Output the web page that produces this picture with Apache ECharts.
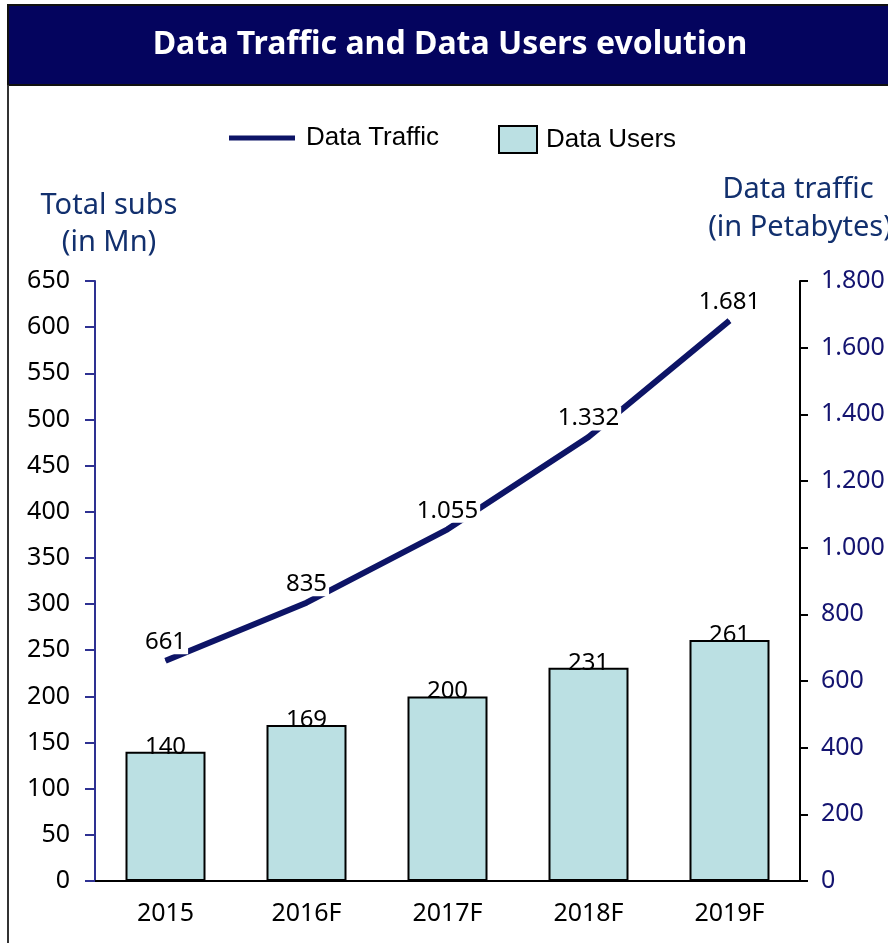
<!DOCTYPE html>
<html>
<head>
<meta charset="utf-8">
<script src="https://cdn.jsdelivr.net/npm/echarts@6/dist/echarts.min.js"></script>
<style>
  html, body { margin: 0; padding: 0; background: #fff; }
  #main { width: 888px; height: 943px; }
</style>
</head>
<body>
<div id="main"></div>
<script>
var years = ['2015', '2016F', '2017F', '2018F', '2019F'];
var dataUsers = [140, 169, 200, 231, 261];
var dataTraffic = [661, 835, 1055, 1332, 1681];

var navy = '#0d1466';
var titleNavy = '#12306e';

var dom = document.getElementById('main');
var myChart = echarts.init(dom);

function dotThousands(v) {
  return String(v).replace(/\B(?=(\d{3})+(?!\d))/g, '.');
}

var option = {
  backgroundColor: '#fff',
  animation: false,
  textStyle: { fontFamily: 'Noto Sans' },
  graphic: [
    { type: 'rect', shape: { x: 8, y: 5, width: 882, height: 80 },
      style: { fill: '#04045e', stroke: '#111', lineWidth: 2 } },
    { type: 'text', x: 450, y: 45,
      style: { text: 'Data Traffic and Data Users evolution', fill: '#fff',
        font: 'bold 32px "Noto Sans"', textAlign: 'center', textVerticalAlign: 'middle' } },
    { type: 'line', shape: { x1: 8, y1: 85, x2: 8, y2: 943 },
      style: { stroke: '#333', lineWidth: 2 } },
    { type: 'text', x: 109, y: 206,
      style: { text: 'Total subs', fill: titleNavy, font: '29px "Noto Sans"',
        textAlign: 'center', textVerticalAlign: 'middle' } },
    { type: 'text', x: 109, y: 243,
      style: { text: '(in Mn)', fill: titleNavy, font: '29px "Noto Sans"',
        textAlign: 'center', textVerticalAlign: 'middle' } },
    { type: 'text', x: 798, y: 190,
      style: { text: 'Data traffic', fill: titleNavy, font: '29px "Noto Sans"',
        textAlign: 'center', textVerticalAlign: 'middle' } },
    { type: 'text', x: 800, y: 228,
      style: { text: '(in Petabytes)', fill: titleNavy, font: '29px "Noto Sans"',
        textAlign: 'center', textVerticalAlign: 'middle' } }
  ],
  legend: [{
    data: [{ name: 'Data Traffic', icon: 'rect' }],
    left: 224, top: 120,
    itemWidth: 66, itemHeight: 5,
    itemGap: 12,
    textStyle: { fontFamily: 'Liberation Sans', fontSize: 26, color: '#000', padding: [0, 0, 0, 6] }
  }, {
    data: [{ name: 'Data Users', icon: 'rect' }],
    left: 493, top: 120,
    itemWidth: 38, itemHeight: 27,
    itemGap: 12,
    itemStyle: { borderColor: '#000', borderWidth: 2 },
    textStyle: { fontFamily: 'Liberation Sans', fontSize: 26, color: '#000', padding: [0, 0, 0, 4] }
  }],
  grid: { left: 95, right: 88, top: 281, bottom: 62 },
  xAxis: {
    type: 'category',
    data: years,
    axisLine: { lineStyle: { color: '#000', width: 2 } },
    axisTick: { show: false },
    axisLabel: { color: '#000', fontSize: 25, margin: 20 }
  },
  yAxis: [{
    type: 'value',
    min: 0, max: 650, interval: 50,
    splitLine: { show: false },
    axisLine: { show: true, lineStyle: { color: '#2e3192', width: 2 } },
    axisTick: { show: true, length: 10, lineStyle: { color: '#2e3192', width: 2 } },
    axisLabel: { color: '#000', fontSize: 25, margin: 25 }
  }, {
    type: 'value',
    min: 0, max: 1800, interval: 200,
    position: 'right',
    splitLine: { show: false },
    axisLine: { show: true, lineStyle: { color: '#000', width: 2 } },
    axisTick: { show: true, length: 8, lineStyle: { color: '#000', width: 2 } },
    axisLabel: { color: '#141470', fontSize: 25, margin: 21, formatter: dotThousands }
  }],
  series: [{
    name: 'Data Users',
    type: 'bar',
    data: dataUsers,
    barWidth: 80,
    itemStyle: { color: '#bbe0e3', borderColor: '#000', borderWidth: 2 },
    label: { show: true, position: 'top', distance: -7, color: '#000', fontSize: 24 }
  }, {
    name: 'Data Traffic',
    type: 'line',
    yAxisIndex: 1,
    data: dataTraffic,
    symbol: 'circle',
    symbolSize: 1,
    showSymbol: true,
    z: 5,
    lineStyle: { color: navy, width: 6 },
    itemStyle: { color: navy },
    label: {
      show: true, position: 'top', distance: 6, color: '#000', fontSize: 24,
      backgroundColor: '#fff', padding: [0, 2],
      formatter: function (p) { return dotThousands(p.value); }
    }
  }]
};

if (option && typeof option === 'object') {
  myChart.setOption(option, true);
}
</script>
</body>
</html>
